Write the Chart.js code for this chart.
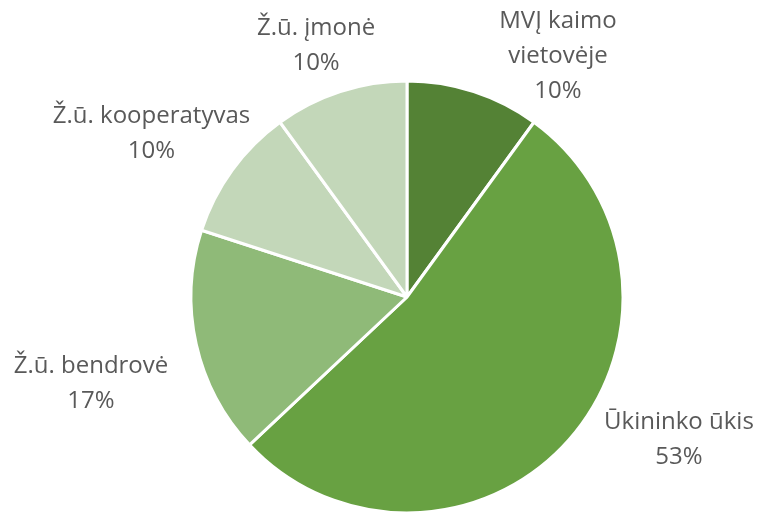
<!DOCTYPE html>
<html>
<head>
<meta charset="utf-8">
<script src="https://cdn.jsdelivr.net/npm/chart.js@4/dist/chart.umd.min.js"></script>
<style>
html,body{margin:0;padding:0;background:#fff;overflow:hidden;}
#wrap{width:764px;height:512px;position:relative;}
</style>
</head>
<body>
<div id="wrap"><canvas id="c" width="764" height="512"></canvas></div>
<script>
const categories = ["MVĮ kaimo vietovėje", "Ūkininko ūkis", "Ž.ū. bendrovė", "Ž.ū. kooperatyvas", "Ž.ū. įmonė"];
const labelLines = [["MVĮ kaimo", "vietovėje"], ["Ūkininko ūkis"], ["Ž.ū. bendrovė"], ["Ž.ū. kooperatyvas"], ["Ž.ū. įmonė"]];
const shares = [10, 53, 17, 10, 10];
const sliceColors = ["#548235", "#68a142", "#8fba78", "#c3d7b9", "#c3d7b9"];

// label centre offsets, as a fraction of the pie radius
const labelOffsets = [[0.699, -1.116], [1.259, 0.662], [-1.463, 0.403], [-1.183, -0.757], [-0.421, -1.162]];

const labelPlugin = {
  id: 'outLabels',
  afterDatasetsDraw(chart) {
    const ctx = chart.ctx;
    const meta = chart.getDatasetMeta(0);
    ctx.save();
    ctx.font = '24px "Open Sans", sans-serif';
    ctx.fillStyle = '#595959';
    ctx.textAlign = 'center';
    ctx.textBaseline = 'middle';
    const lh = 35;
    meta.data.forEach((arc, i) => {
      const r = arc.outerRadius;
      const cx = arc.x + labelOffsets[i][0] * r;
      const cy = arc.y + labelOffsets[i][1] * r;
      const lines = labelLines[i].concat([shares[i] + '%']);
      const top = cy - (lines.length - 1) * lh / 2;
      lines.forEach((t, k) => ctx.fillText(t, cx, top + k * lh));
    });
    ctx.restore();
  }
};

new Chart(document.getElementById('c'), {
  type: 'pie',
  data: {
    labels: categories,
    datasets: [{
      data: shares,
      backgroundColor: sliceColors,
      borderColor: '#ffffff',
      borderWidth: 3,
      hoverOffset: 0
    }]
  },
  options: {
    responsive: false,
    animation: false,
    radius: 216,
    layout: { padding: { left: 50, right: 0, top: 82, bottom: -2 } },
    plugins: { legend: { display: false }, tooltip: { enabled: false } }
  },
  plugins: [labelPlugin]
});
</script>
</body>
</html>
